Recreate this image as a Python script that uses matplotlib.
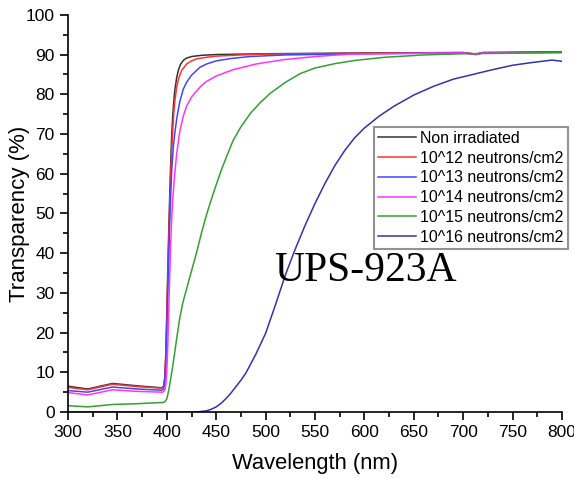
import matplotlib.pyplot as plt
from matplotlib.ticker import MultipleLocator

plt.rcParams['font.family'] = ['Liberation Sans', 'DejaVu Sans']

# wavelength (nm) and transparency (%)
wl_non = [300, 320, 345, 370, 395, 397, 398, 399, 400, 401, 402, 403, 404, 405, 406, 407, 408, 410, 412, 414, 417, 420, 425, 435, 450, 500, 600, 700, 713, 720, 800]
tr_non = [6.5, 5.8, 7.2, 6.6, 6.1, 6.6, 9, 15, 25, 36, 46, 55, 63, 70, 74.5, 78, 80.8, 84.2, 86.3, 87.6, 88.6, 89.1, 89.5, 89.8, 90.0, 90.2, 90.4, 90.5, 90.1, 90.5, 90.7]

wl_e12 = [300, 320, 345, 370, 395, 397, 398, 399, 400, 401, 402, 403, 404, 405, 406, 407, 408, 410, 412, 415, 420, 425, 430, 440, 450, 475, 500, 600, 700, 713, 720, 800]
tr_e12 = [6.2, 5.6, 7.0, 6.4, 6.0, 6.4, 8.5, 14, 23, 33, 43, 52, 60, 66, 71, 75, 78, 81.8, 84, 86, 87.6, 88.4, 88.9, 89.3, 89.6, 89.9, 90.1, 90.3, 90.5, 90.1, 90.5, 90.6]

wl_e13 = [300, 320, 345, 370, 395, 397, 398, 399, 400, 401, 402, 403, 404, 405, 406.6, 408, 410, 413, 416.7, 420, 425, 433.6, 440, 450, 465, 484, 520, 600, 700, 713, 720, 800]
tr_e13 = [5.4, 5.0, 6.3, 5.8, 5.5, 5.9, 8, 12, 20, 30, 40, 48, 55, 61, 66.8, 70, 73.8, 78, 81.3, 83, 84.8, 86.8, 87.6, 88.4, 89.0, 89.5, 89.9, 90.2, 90.4, 90.0, 90.4, 90.6]

wl_e14 = [300, 320, 345, 370, 396, 398, 399, 400, 401, 402, 403, 404, 405, 406, 408, 410, 413, 416.7, 420, 425, 433.6, 440, 450, 467.3, 490, 518, 550, 585, 650, 700, 713, 720, 800]
tr_e14 = [4.9, 4.3, 5.6, 5.2, 5.0, 5.6, 7, 10, 17, 26, 35, 43, 49, 53.5, 60, 65, 70.5, 74.5, 77, 79.3, 81.8, 83.2, 84.6, 86.2, 87.6, 88.7, 89.5, 90.1, 90.3, 90.4, 90.0, 90.4, 90.5]

wl_e15 = [300, 320, 345, 370, 396, 398, 400, 402, 404, 406, 408, 410, 413, 416, 420, 425, 430, 435, 440, 445, 450, 455, 460, 467, 475, 485, 495, 505, 520, 535, 550, 570, 590, 620, 660, 700, 800]
tr_e15 = [1.6, 1.3, 1.9, 2.1, 2.4, 2.6, 3.3, 5.5, 8.5, 11.5, 15, 18.5, 23.5, 27.3, 31, 35.5, 40, 45, 49.5, 53.5, 57.2, 60.8, 64, 68.3, 71.8, 75.3, 78, 80.3, 83, 85.2, 86.6, 87.7, 88.5, 89.3, 89.9, 90.2, 90.5]

wl_e16 = [300, 400, 430, 440, 445, 450, 455, 460, 465, 470, 475, 480, 490, 500, 510, 520, 530, 540, 550, 560, 570, 580, 590, 600, 615, 630, 650, 670, 690, 710, 730, 750, 770, 790, 800]
tr_e16 = [0, 0, 0, 0.3, 0.7, 1.3, 2.2, 3.4, 4.8, 6.4, 8.0, 9.8, 14.5, 19.8, 27, 34.5, 41, 47, 52.5, 57.5, 62, 65.8, 69, 71.5, 74.5, 77, 79.8, 82, 83.8, 85, 86.2, 87.3, 88.0, 88.6, 88.3]

labels = ['Non irradiated', '10^12 neutrons/cm2', '10^13 neutrons/cm2',
          '10^14 neutrons/cm2', '10^15 neutrons/cm2', '10^16 neutrons/cm2']

fig = plt.figure(figsize=(5.74, 4.78), dpi=100)
ax = fig.add_axes([0.1185, 0.138, 0.8605, 0.831])

ax.plot(wl_non, tr_non, color='#333333', lw=1.1, label=labels[0])
ax.plot(wl_e12, tr_e12, color='#ff3333', lw=1.1, label=labels[1])
ax.plot(wl_e13, tr_e13, color='#4444ff', lw=1.1, label=labels[2])
ax.plot(wl_e14, tr_e14, color='#ff33ff', lw=1.1, label=labels[3])
ax.plot(wl_e15, tr_e15, color='#33a033', lw=1.1, label=labels[4])
ax.plot(wl_e16, tr_e16, color='#3333aa', lw=1.1, label=labels[5])

ax.set_xlim(300, 800)
ax.set_ylim(0, 100)
ax.xaxis.set_major_locator(MultipleLocator(50))
ax.xaxis.set_minor_locator(MultipleLocator(25))
ax.yaxis.set_major_locator(MultipleLocator(10))
ax.yaxis.set_minor_locator(MultipleLocator(5))
ax.tick_params(which='major', direction='out', length=6, width=1.2, labelsize=12.5)
ax.tick_params(which='minor', direction='out', length=3.5, width=1.2)
ax.spines['top'].set_visible(False)
ax.spines['right'].set_visible(False)
ax.spines['left'].set_linewidth(1.2)
ax.spines['bottom'].set_linewidth(1.2)

ax.set_xlabel('Wavelength (nm)', fontsize=15.8, labelpad=9)
ax.set_ylabel('Transparency (%)', fontsize=16)
ax.yaxis.set_label_coords(-0.077, 0.5)

leg = ax.legend(loc='upper right', bbox_to_anchor=(1.012, 0.718), fontsize=11.4,
                frameon=True, fancybox=False, edgecolor='#777777',
                handlelength=2.35, handletextpad=0.3, borderpad=0.25,
                labelspacing=0.3, borderaxespad=0)
leg.get_frame().set_linewidth(1.5)

ax.text(601, 33, 'UPS-923A', family='Liberation Serif', fontsize=30,
        ha='center', va='baseline')

fig.savefig('out.png', dpi=100)
